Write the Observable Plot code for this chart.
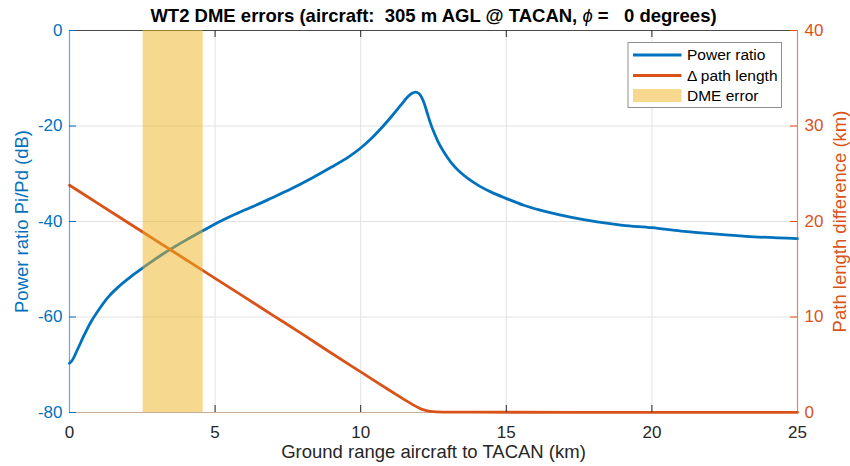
<!DOCTYPE html>
<html>
<head>
<meta charset="utf-8">
<script src="https://cdn.jsdelivr.net/npm/d3@7"></script>
<script src="https://cdn.jsdelivr.net/npm/@observablehq/plot@0.6"></script>
<style>
  body { margin: 0; background: #fff; }
  #chart svg text { font-family: "Liberation Sans", Arial, Helvetica, sans-serif; }
</style>
</head>
<body>
<div id="chart"></div>
<script>
// Ground range (km) and interference-to-direct power ratio (dB)
const powerKm = [0, 0.1, 0.29, 0.52, 0.74, 0.97, 1.32, 1.66, 2.12, 2.52, 2.92, 3.26, 3.58, 4.0, 4.59, 5.2, 5.76, 6.4, 6.9, 7.6, 8.3, 9.0, 9.6, 10.0, 10.4, 10.79, 11.1, 11.37, 11.6, 11.75, 11.88, 12.0, 12.11, 12.2, 12.3, 12.4, 12.5, 12.65, 12.85, 13.1, 13.4, 13.75, 14.11, 14.5, 14.97, 15.6, 16.4, 17.2, 18.12, 19.0, 20.0, 21.0, 22.13, 23.5, 25.0];
const powerDb = [-69.7, -69.0, -66.6, -63.6, -61.0, -58.8, -55.9, -53.8, -51.5, -49.7, -48.0, -46.6, -45.4, -43.9, -41.9, -39.9, -38.3, -36.6, -35.2, -33.2, -31.0, -28.6, -26.4, -24.6, -22.4, -19.9, -17.7, -15.7, -14.0, -13.2, -12.9, -13.2, -14.2, -15.6, -17.6, -19.5, -21.1, -23.2, -25.4, -27.6, -29.6, -31.3, -32.7, -33.9, -35.1, -36.6, -38.0, -39.1, -40.1, -40.8, -41.3, -42.0, -42.6, -43.2, -43.6];

// Ground range (km) and reflected-minus-direct path length (km)
const pathKm = [0, 1, 2, 3, 4, 5, 6, 7, 8, 9, 10, 11, 11.5, 11.8, 12.0, 12.2, 12.4, 12.6, 12.9, 14, 18, 25];
const pathLen = [23.8, 21.85, 19.9, 17.95, 16.0, 14.05, 12.1, 10.15, 8.2, 6.2, 4.25, 2.3, 1.35, 0.8, 0.48, 0.24, 0.11, 0.06, 0.04, 0.03, 0.02, 0.02];

// Range interval with DME error
const dmeErrorKm = [2.53, 4.59];

const xTicks = [0, 5, 10, 15, 20, 25];
const leftTicks = [-80, -60, -40, -20, 0];
const rightTicks = [0, 10, 20, 30, 40];

const titleText = "WT2 DME errors (aircraft:\u00a0 305 m AGL @ TACAN, \u03d5 =\u00a0\u00a0 0 degrees)";
const xLabel = "Ground range aircraft to TACAN (km)";
const leftLabel = "Power ratio Pi/Pd (dB)";
const rightLabel = "Path length difference (km)";
const legendLabels = ["Power ratio", "\u0394 path length", "DME error"];

const blue = "#0072BD";
const orange = "#D95319";
const gold = "#EDB120";
const gridColor = "#e2e2e2";

// Right axis (0–40 km) shares the left scale (−80–0 dB)
const leftDomain = [-80, 0];
const rightDomain = [0, 40];
const kmToLeft = (v) => leftDomain[0] + (v - rightDomain[0]) * (leftDomain[1] - leftDomain[0]) / (rightDomain[1] - rightDomain[0]);
const leftToKm = (v) => rightDomain[0] + (v - leftDomain[0]) * (rightDomain[1] - rightDomain[0]) / (leftDomain[1] - leftDomain[0]);

const power = powerKm.map((km, i) => ({km, db: powerDb[i]}));
const path = pathKm.map((km, i) => ({km, len: pathLen[i]}));
const band = [{x1: dmeErrorKm[0], x2: dmeErrorKm[1]}];

const W = 850, H = 466;
const mL = 69, mR = 53, mT = 30, mB = 54;
const frameW = W - mL - mR, frameH = H - mT - mB;
const tickLen = 7;
const fontTick = 17;
const fontLabel = 18.5;
const plain = (d) => String(d);

const chart = Plot.plot({
  width: W,
  height: H,
  marginLeft: mL,
  marginRight: mR,
  marginTop: mT,
  marginBottom: mB,
  style: {background: "#fff", fontSize: fontTick + "px", overflow: "visible"},
  x: {domain: [xTicks[0], xTicks[xTicks.length - 1]]},
  y: {domain: leftDomain},
  marks: [
    // grid
    Plot.ruleX(xTicks.slice(1, -1), {stroke: gridColor, strokeWidth: 1}),
    Plot.ruleY(leftTicks.slice(1, -1), {stroke: gridColor, strokeWidth: 1}),
    // top and bottom box edges
    Plot.ruleY([leftDomain[1]], {stroke: "#4a4a4a", strokeWidth: 1}),
    Plot.ruleY([leftDomain[0]], {stroke: "#c9ad98", strokeWidth: 1.2}),
    // data
    Plot.line(power, {x: "km", y: "db", stroke: blue, strokeWidth: 2.8, curve: "catmull-rom"}),
    Plot.line(path, {x: "km", y: (d) => kmToLeft(d.len), stroke: orange, strokeWidth: 2.8, curve: "catmull-rom"}),
    Plot.rect(band, {x1: "x1", x2: "x2", fill: gold, fillOpacity: 0.5}),
    // left and right box edges
    Plot.ruleX([xTicks[0]], {stroke: blue, strokeOpacity: 0.6, strokeWidth: 1.2}),
    Plot.ruleX([xTicks[xTicks.length - 1]], {stroke: orange, strokeOpacity: 0.7, strokeWidth: 1.2}),
    // inward tick marks
    Plot.tickY(leftTicks, {y: (d) => d, stroke: blue, insetRight: frameW - tickLen}),
    Plot.tickY(rightTicks, {y: (d) => kmToLeft(d), stroke: orange, insetLeft: frameW - tickLen}),
    Plot.tickX(xTicks.slice(1, -1), {x: (d) => d, stroke: "#262626", insetTop: frameH - tickLen}),
    Plot.tickX(xTicks.slice(1, -1), {x: (d) => d, stroke: "#262626", insetBottom: frameH - tickLen}),
    // tick labels
    Plot.axisX(xTicks, {tickSize: 0, tickPadding: 13, fontSize: fontTick, fill: "#262626", label: null, tickFormat: plain}),
    Plot.axisY(leftTicks, {anchor: "left", tickSize: 0, tickPadding: 7, fontSize: fontTick, fill: blue, label: null, tickFormat: plain}),
    Plot.axisY(rightTicks.map(kmToLeft), {anchor: "right", tickSize: 0, tickPadding: 7, fontSize: fontTick, fill: orange, label: null, tickFormat: (d) => String(leftToKm(d))}),
    // axis titles and chart title
    Plot.text([xLabel], {frameAnchor: "bottom", dy: 40, fontSize: fontLabel, fill: "#262626", textAnchor: "middle", lineAnchor: "middle"}),
    Plot.text([leftLabel], {frameAnchor: "left", dx: -47, rotate: -90, fontSize: fontLabel, fill: blue, textAnchor: "middle", lineAnchor: "middle"}),
    Plot.text([rightLabel], {frameAnchor: "right", dx: 43, rotate: -90, fontSize: fontLabel, fill: orange, textAnchor: "middle", lineAnchor: "middle"}),
    Plot.text([titleText], {frameAnchor: "top", dy: -14, fontSize: fontLabel, fontWeight: "bold", fill: "#000", textAnchor: "middle", lineAnchor: "middle"})
  ]
});

// Italic phi in the title
d3.select(chart).selectAll("text")
  .filter(function () { return this.textContent === titleText; })
  .each(function () {
    const t = d3.select(this);
    const [before, after] = titleText.split("\u03d5");
    t.text(null);
    t.append("tspan").text(before);
    t.append("tspan").attr("font-style", "italic").attr("font-weight", "normal").text("\u03d5");
    t.append("tspan").text(after);
  });

// Legend in the upper-right corner of the frame
const svg = d3.select(chart);
const lg = svg.append("g").attr("transform", `translate(${mL + frameW - 15.5},${mT + 12.5})`);
const boxW = 153.5, boxH = 65;
lg.append("rect").attr("x", -boxW).attr("y", 0).attr("width", boxW).attr("height", boxH)
  .attr("fill", "#fff").attr("stroke", "#8f8f8f").attr("stroke-width", 1);
const rowY = [12.5, 33, 53];
const swX0 = -boxW + 5, swX1 = -boxW + 53.5, txX = -boxW + 59;
[blue, orange].forEach((c, i) => {
  lg.append("line").attr("x1", swX0).attr("x2", swX1).attr("y1", rowY[i]).attr("y2", rowY[i])
    .attr("stroke", c).attr("stroke-width", 2.8);
});
lg.append("rect").attr("x", swX0).attr("y", rowY[2] - 6.5).attr("width", swX1 - swX0).attr("height", 13)
  .attr("fill", gold).attr("fill-opacity", 0.5);
legendLabels.forEach((s, i) => {
  lg.append("text").attr("x", txX).attr("y", rowY[i]).attr("dy", "0.35em")
    .attr("text-anchor", "start").attr("font-size", 15.5).attr("fill", "#000").text(s);
});

document.getElementById("chart").appendChild(chart);
</script>
</body>
</html>
